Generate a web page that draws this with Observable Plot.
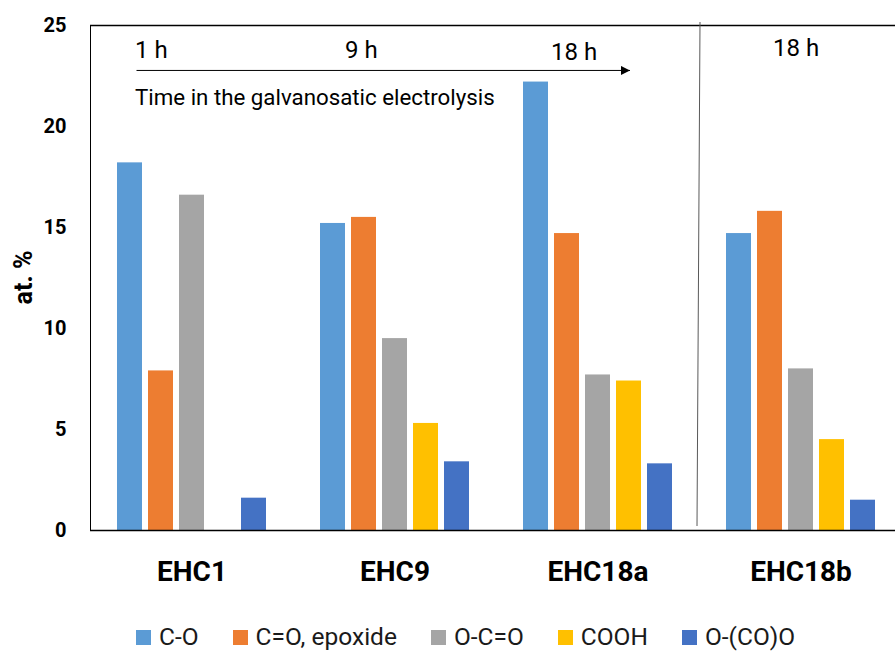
<!DOCTYPE html>
<html>
<head>
<meta charset="utf-8">
<script src="https://cdn.jsdelivr.net/npm/d3@7"></script>
<script src="https://cdn.jsdelivr.net/npm/@observablehq/plot@0.6"></script>
<style>
  body { margin: 0; background: #fff; font-family: Roboto, sans-serif; overflow: hidden; }
  #chart { width: 895px; height: 654px; position: relative; overflow: hidden; }
  #chart svg [aria-label^="y-axis"] text { font-size: 20px; font-weight: bold; fill: #000; }
  #chart svg [aria-label^="fx-axis"] text { font-size: 28px; font-weight: bold; fill: #000; }
  .legend { display: flex; align-items: center; gap: 34px; padding-left: 136px; margin-top: 5px;
            height: 28px; line-height: 28px; font-size: 24.5px; color: #1a1a1a; white-space: nowrap; }
  .legend span.item { display: inline-flex; align-items: center; }
  .legend span.sw { width: 15px; height: 15px; margin-right: 8px; display: inline-block; }
</style>
</head>
<body>
<div id="chart"></div>
<script>
// Samples (x groups) and surface oxygen groups (bars within each sample)
const samples = ["EHC1", "EHC9", "EHC18a", "EHC18b"];
const groups = ["C-O", "C=O, epoxide", "O-C=O", "COOH", "O-(CO)O"];
const colors = ["#5B9BD5", "#ED7D31", "#A5A5A5", "#FFC000", "#4472C4"];

// at. % of each group, one value per sample (null = not detected)
const valCO    = [18.2, 15.2, 22.2, 14.7];
const valCOep  = [7.9, 15.5, 14.7, 15.8];
const valOCO   = [16.6, 9.5, 7.7, 8.0];
const valCOOH  = [null, 5.3, 7.4, 4.5];
const valOCOO  = [1.6, 3.4, 3.3, 1.5];

const yTicks = [0, 5, 10, 15, 20, 25];
const yLabel = "at. %";
const timeLabels = ["1 h", "9 h", "18 h", "18 h"];
const timeCaption = "Time in the galvanosatic electrolysis";

const series = [valCO, valCOep, valOCO, valCOOH, valOCOO];
const rows = samples.flatMap((s, i) =>
  groups.map((g, j) => ({sample: s, group: g, value: series[j][i]}))
).filter(d => d.value != null);

// label placement: sample facet, horizontal nudge from the C-O bar, height in data units
const timeNotes = [
  {sample: "EHC1", label: timeLabels[0], dx: 5, y: 23.37},
  {sample: "EHC9", label: timeLabels[1], dx: 12, y: 23.37},
  {sample: "EHC18a", label: timeLabels[2], dx: 15, y: 23.3},
  {sample: "EHC18b", label: timeLabels[3], dx: 34, y: 23.47}
];

const plot = Plot.plot({
  width: 895,
  height: 618,
  marginLeft: 90,
  marginRight: -7,
  marginTop: 25,
  marginBottom: 88,
  style: {fontFamily: "Roboto, sans-serif", background: "#fff", color: "#000", overflow: "visible"},
  fx: {domain: samples, padding: 0, label: null, tickSize: 0, tickPadding: 31, axis: "bottom"},
  x: {domain: groups, paddingInner: 0.194, paddingOuter: 0.871, axis: null},
  y: {domain: [0, 25], ticks: yTicks, tickSize: 0, tickPadding: 24, label: null, line: true},
  color: {domain: groups, range: colors},
  marks: [
    Plot.barY(rows, {fx: "sample", x: "group", y: "value", fill: "group"}),
    Plot.ruleY([0, 25], {stroke: "#000", strokeWidth: 1.5}),
    ...timeNotes.map(n => Plot.text([n], {
      fx: "sample", x: () => groups[0], y: "y", text: "label",
      dx: n.dx, textAnchor: "start", lineAnchor: "bottom",
      fontSize: 24, fill: "#000"
    })),
    Plot.text([{sample: "EHC1", label: timeCaption}], {
      fx: "sample", x: () => groups[0], y: () => 21.04, text: "label",
      dx: 5, textAnchor: "start", lineAnchor: "bottom", fontSize: 22.3, fill: "#000"
    })
  ]
});

document.getElementById("chart").appendChild(plot);

// Overlays drawn across facets with the plot's own scales
const fx = plot.scale("fx"), xs = plot.scale("x"), ys = plot.scale("y");
const xAbs = (s, g) => fx.apply(s) + (xs.apply(g) - xs.range[0]) + xs.bandwidth / 2;
const svg = d3.select(plot);

// rotated y-axis title, centred on the value range
svg.append("text")
  .attr("transform", `translate(23,${ys.apply(12.5)}) rotate(-90)`)
  .attr("text-anchor", "middle").attr("dominant-baseline", "central")
  .attr("font-size", 25).attr("font-weight", "bold").attr("fill", "#000")
  .text(yLabel);

const defs = svg.append("defs");
defs.append("marker").attr("id", "arrowhead")
  .attr("viewBox", "0 0 10 10").attr("refX", 10).attr("refY", 5)
  .attr("markerWidth", 10).attr("markerHeight", 9).attr("markerUnits", "userSpaceOnUse")
  .attr("orient", "auto")
  .append("path").attr("d", "M0,0L10,5L0,10Z").attr("fill", "#000");

// time arrow from the first to the third sample
svg.append("line")
  .attr("x1", xAbs("EHC1", groups[0]) + 7)
  .attr("x2", xAbs("EHC18a", groups[3]) + 1.5)
  .attr("y1", ys.apply(22.75)).attr("y2", ys.apply(22.75))
  .attr("stroke", "#000").attr("stroke-width", 1)
  .attr("marker-end", "url(#arrowhead)");

// separator between the time series and the second 18 h sample
const sepX = fx.apply("EHC18b");
svg.append("line")
  .attr("x1", sepX + 1).attr("x2", sepX - 2)
  .attr("y1", ys.apply(25) - 3).attr("y2", ys.apply(0) - 4)
  .attr("stroke", "#595959").attr("stroke-width", 1);

// legend row
const legend = d3.select("#chart").append("div").attr("class", "legend");
groups.forEach((g, i) => {
  const item = legend.append("span").attr("class", "item");
  item.append("span").attr("class", "sw").style("background", colors[i]);
  item.append("span").text(g);
});
</script>
</body>
</html>
